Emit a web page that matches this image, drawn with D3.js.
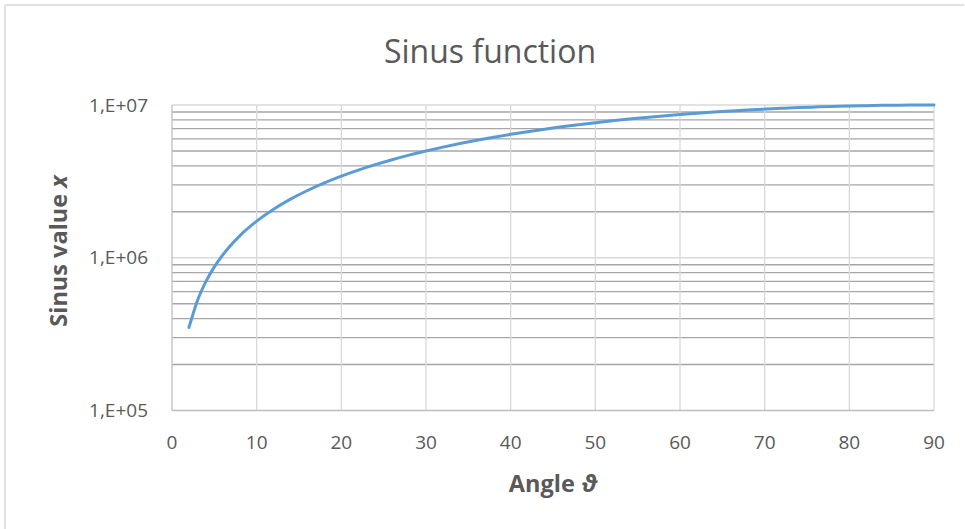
<!DOCTYPE html>
<html><head><meta charset="utf-8">
<script src="https://cdn.jsdelivr.net/npm/d3@7"></script>
<style>body{margin:0;background:#fff}svg{display:block}</style>
</head><body>
<script>
const angles = [2,3,4,5,6,8,10,12,14,16,18,20,22,24,26,28,30,32,34,36,38,40,42,44,46,48,50,52,54,56,58,60,62,64,66,68,70,72,74,76,78,80,82,84,86,88,90];
const sinusValues = [348995,523360,697565,871557,1045285,1391731,1736482,2079117,2419219,2756374,3090170,3420201,3746066,4067366,4383711,4694716,5000000,5299193,5591929,5877853,6156615,6427876,6691306,6946584,7193398,7431448,7660444,7880108,8090170,8290376,8480481,8660254,8829476,8987940,9135455,9271839,9396926,9510565,9612617,9702957,9781476,9848078,9902681,9945219,9975641,9993908,10000000];
const xTicks = [0,10,20,30,40,50,60,70,80,90];
const yMajorTicks = [1e5,1e6,1e7];
const yTickLabels = ["1,E+05","1,E+06","1,E+07"];
const titleText = "Sinus function";

const W = 965, H = 529;
const svg = d3.select("body").append("svg").attr("width", W).attr("height", H);
const font = "'Open Sans', 'Liberation Sans', sans-serif";
const textCol = "#595959";

// outer border (left and top visible)
svg.append("line").attr("x1",5).attr("x2",5).attr("y1",5).attr("y2",H).attr("stroke","#d9d9d9").attr("stroke-width",1.5);
svg.append("line").attr("x1",5).attr("x2",964).attr("y1",5).attr("y2",5).attr("stroke","#d9d9d9").attr("stroke-width",1.5);

const x = d3.scaleLinear().domain([0,90]).range([172,934]);
const y = d3.scaleLog().domain([1e5,1e7]).range([410.5,105]);

// minor gridlines
const minor = [];
for (let e = 5; e < 7; e++) for (let m = 2; m <= 9; m++) minor.push(m * Math.pow(10, e));
svg.append("g").selectAll("line").data(minor).join("line")
  .attr("x1", x(0)).attr("x2", x(90))
  .attr("y1", d => y(d)).attr("y2", d => y(d))
  .attr("stroke", "#a6a6a6").attr("stroke-width", 1.3);

// vertical gridlines
svg.append("g").selectAll("line").data(xTicks.slice(1)).join("line")
  .attr("x1", d => x(d)).attr("x2", d => x(d))
  .attr("y1", y(1e7)).attr("y2", y(1e5))
  .attr("stroke", "#d9d9d9").attr("stroke-width", 1.3);

// major gridlines
svg.append("g").selectAll("line").data(yMajorTicks.slice(1)).join("line")
  .attr("x1", x(0)).attr("x2", x(90))
  .attr("y1", d => y(d)).attr("y2", d => y(d))
  .attr("stroke", "#d9d9d9").attr("stroke-width", 1.3);

// axes lines
svg.append("line").attr("x1", x(0)).attr("x2", x(0)).attr("y1", y(1e7)).attr("y2", y(1e5)).attr("stroke", "#bfbfbf").attr("stroke-width", 1.3);
svg.append("line").attr("x1", x(0)).attr("x2", x(90)).attr("y1", y(1e5)).attr("y2", y(1e5)).attr("stroke", "#bfbfbf").attr("stroke-width", 1.3);

// tick labels
svg.append("g").selectAll("text").data(yMajorTicks).join("text")
  .attr("x", 148).attr("y", d => y(d)).attr("dy", "0.35em")
  .attr("text-anchor", "end").attr("font-family", font).attr("font-size", 19).attr("fill", textCol)
  .text((d, i) => yTickLabels[i]);
svg.append("g").selectAll("text").data(xTicks).join("text")
  .attr("x", d => x(d)).attr("y", 449)
  .attr("text-anchor", "middle").attr("font-family", font).attr("font-size", 19).attr("fill", textCol)
  .text(d => d);

// line
const line = d3.line().x((d, i) => x(angles[i])).y(d => y(d)).curve(d3.curveMonotoneX);
svg.append("path").datum(sinusValues).attr("d", line)
  .attr("fill", "none").attr("stroke", "#5b9bd5").attr("stroke-width", 3).attr("stroke-linecap", "round");

// title
svg.append("text").attr("x", 490).attr("y", 63).attr("text-anchor", "middle")
  .attr("font-family", font).attr("font-size", 32).attr("fill", textCol).text(titleText);

// axis titles
const xt = svg.append("text").attr("x", 553).attr("y", 492).attr("text-anchor", "middle")
  .attr("font-family", font).attr("font-size", 23.5).attr("font-weight", "bold").attr("fill", textCol);
xt.append("tspan").text("Angle ");
xt.append("tspan").attr("font-style", "italic").text("ϑ");

const yt = svg.append("text").attr("transform", "translate(67,251) rotate(-90)").attr("text-anchor", "middle")
  .attr("font-family", font).attr("font-size", 23.5).attr("font-weight", "bold").attr("fill", textCol);
yt.append("tspan").text("Sinus value ");
yt.append("tspan").attr("font-style", "italic").text("x");
</script>
</body></html>
